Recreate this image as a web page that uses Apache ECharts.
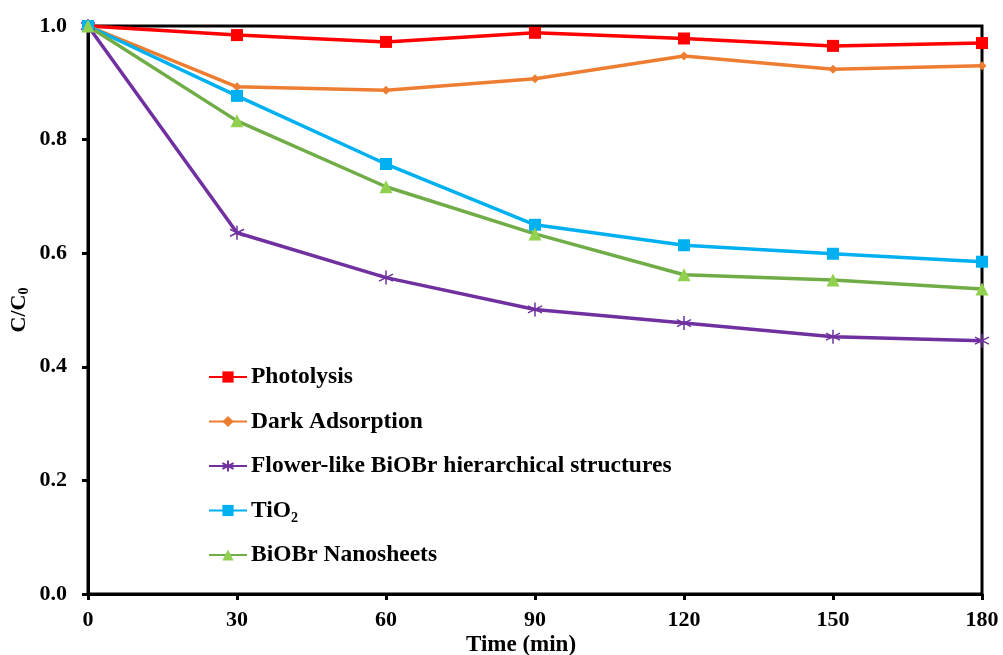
<!DOCTYPE html>
<html>
<head>
<meta charset="utf-8">
<script src="https://cdn.jsdelivr.net/npm/echarts@6/dist/echarts.min.js"></script>
<style>
  html, body { margin: 0; padding: 0; background: #fff; }
  #chart { width: 1003px; height: 655px; }
</style>
</head>
<body>
<div id="chart"></div>
<script>
// Irradiation time (min)
const timeMin = [0, 30, 60, 90, 120, 150, 180];

// C/C0 for each run
const photolysis   = [1.0, 0.984, 0.972, 0.988, 0.978, 0.965, 0.970];
const darkAdsorp   = [1.0, 0.893, 0.887, 0.907, 0.947, 0.924, 0.930];
const flowerBiOBr  = [1.0, 0.636, 0.557, 0.501, 0.477, 0.453, 0.446];
const tio2         = [1.0, 0.877, 0.757, 0.650, 0.614, 0.599, 0.585];
const nanosheets   = [1.0, 0.833, 0.717, 0.634, 0.562, 0.553, 0.537];

const seriesNames = [
  'Photolysis',
  'Dark Adsorption',
  'Flower-like BiOBr hierarchical structures',
  'TiO\u2082',
  'BiOBr Nanosheets'
];

const font = '"Liberation Serif", "Times New Roman", serif';
const asterisk = 'path://M5,0L5,10M0.7,2.5L9.3,7.5M9.3,2.5L0.7,7.5';

function pairs(vals) {
  return timeMin.map((t, i) => [t, vals[i]]);
}

function lineSeries(name, vals, color, symbol, size, extraItem) {
  return {
    name: name,
    type: 'line',
    data: pairs(vals),
    symbol: symbol,
    symbolSize: size,
    lineStyle: { color: color, width: 3.5 },
    itemStyle: Object.assign({ color: color }, extraItem || {}),
    emphasis: { disabled: true },
    animation: false
  };
}

const chart = echarts.init(document.getElementById('chart'));
chart.setOption({
  backgroundColor: '#ffffff',
  grid: {
    left: 88, right: 21, top: 26, bottom: 61,
    outerBoundsMode: 'none',
    containLabel: false,
    show: true, borderColor: '#000', borderWidth: 3, backgroundColor: 'transparent'
  },
  legend: {
    orient: 'vertical',
    left: 203,
    top: 360,
    itemWidth: 38,
    itemHeight: 14,
    itemGap: 20.5,
    data: seriesNames,
    textStyle: { fontFamily: font, fontWeight: 'bold', fontSize: 23.5, lineHeight: 23, color: '#000', padding: [0, 0, 0, -1] }
  },
  xAxis: {
    type: 'value',
    min: 0, max: 180, interval: 30,
    name: 'Time (min)',
    nameLocation: 'middle',
    nameGap: 40,
    nameMoveOverlap: false,
    nameTextStyle: { fontFamily: font, fontWeight: 'bold', fontSize: 23, color: '#000', padding: [0, 28, 0, 0] },
    axisLine: { show: true, lineStyle: { color: '#000', width: 3 } },
    axisTick: { show: true, length: 6, lineStyle: { color: '#000', width: 3 } },
    axisLabel: { fontFamily: font, fontWeight: 'bold', fontSize: 22, color: '#000', margin: 15 },
    splitLine: { show: false }
  },
  yAxis: {
    type: 'value',
    min: 0, max: 1, interval: 0.2,
    name: 'C/C{sub|0}',
    nameLocation: 'middle',
    nameGap: 57,
    nameMoveOverlap: false,
    nameRotate: 90,
    nameTextStyle: {
      fontFamily: font, fontWeight: 'bold', fontSize: 22, color: '#000',
      rich: { sub: { fontFamily: font, fontWeight: 'bold', fontSize: 14, color: '#000', verticalAlign: 'bottom', padding: [9, 0, 0, 0] } }
    },
    axisLine: { show: true, lineStyle: { color: '#000', width: 3 } },
    axisTick: { show: true, length: 6, lineStyle: { color: '#000', width: 3 } },
    axisLabel: {
      fontFamily: font, fontWeight: 'bold', fontSize: 22, color: '#000', margin: 21,
      formatter: v => v.toFixed(1)
    },
    splitLine: { show: false }
  },
  series: [
    lineSeries(seriesNames[0], photolysis, '#FF0000', 'rect', 12),
    lineSeries(seriesNames[1], darkAdsorp, '#ED7D31', 'diamond', 9),
    lineSeries(seriesNames[2], flowerBiOBr, '#7030A0', asterisk, 14, { borderColor: '#7030A0', borderWidth: 1.5 }),
    lineSeries(seriesNames[3], tio2, '#00B0F0', 'rect', 12),
    lineSeries(seriesNames[4], nanosheets, '#70AD47', 'triangle', 13, { color: '#92D050' })
  ]
});
</script>
</body>
</html>
